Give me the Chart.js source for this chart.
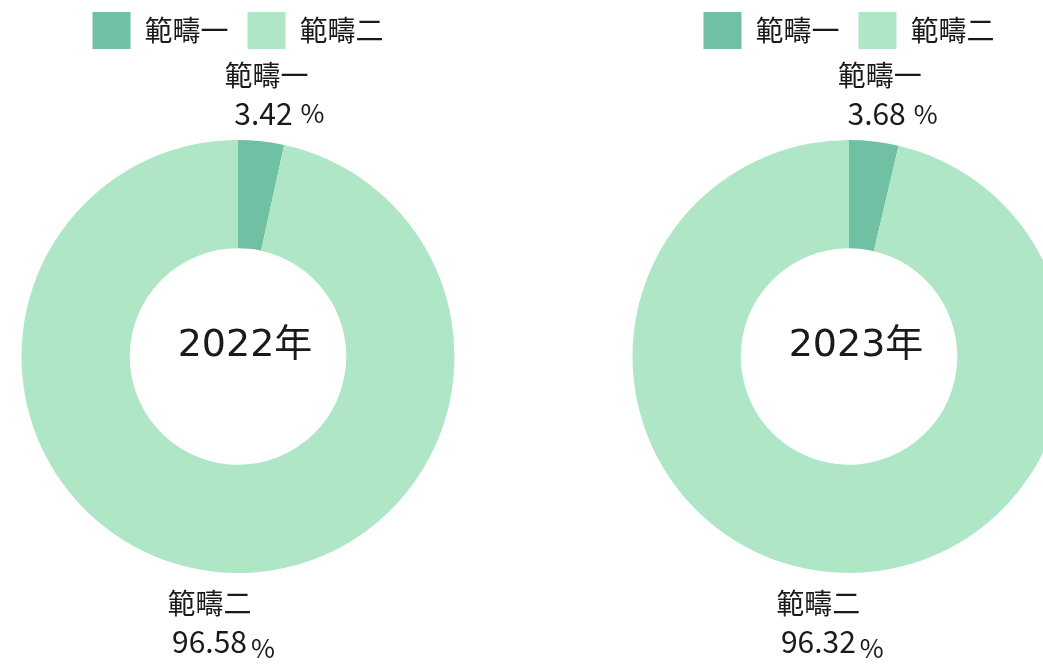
<!DOCTYPE html>
<html>
<head>
<meta charset="utf-8">
<script src="https://cdn.jsdelivr.net/npm/chart.js@4.4.1/dist/chart.umd.min.js"></script>
<style>
  html, body { margin: 0; padding: 0; background: #fff; overflow: hidden; width: 1043px; height: 664px; }
  .wrap { position: absolute; top: 0; width: 476px; height: 664px; }
</style>
</head>
<body>
<div class="wrap" style="left:0"><canvas id="c2022" width="476" height="664"></canvas></div>
<div class="wrap" style="left:611px"><canvas id="c2023" width="476" height="664"></canvas></div>
<script>
// Emission shares by scope, per year (percent)
const categories = ['範疇一', '範疇二'];
const yearLabels = ['2022年', '2023年'];
const share2022 = [3.42, 96.58];
const share2023 = [3.68, 96.32];
const sliceColors = ['#70C1A3', '#AEE6C6'];

const CJK = "'Noto Sans CJK TC', 'Noto Sans CJK SC', sans-serif";
const TEXT = '#1a1a1a';
const LEGEND_PAD = 19;
const LEGEND_TOP = 12;
const PLOT_TOP = 140; // top edge of the doughnut area, below legend and outer labels

// Stretches the legend block so the doughnut starts at PLOT_TOP
const legendSpacer = {
  id: 'legendSpacer',
  beforeInit(chart) {
    const legend = chart.legend;
    if (!legend) return;
    const fit = legend.fit;
    legend.fit = function () {
      fit.call(this);
      this.height = PLOT_TOP + (LEGEND_PAD - LEGEND_TOP);
    };
  }
};

// Draws the scope name and percentage outside each slice, at its mid angle
const sliceLabels = {
  id: 'sliceLabels',
  afterDatasetsDraw(chart) {
    const { ctx } = chart;
    const meta = chart.getDatasetMeta(0);
    const values = chart.data.datasets[0].data;
    ctx.save();
    meta.data.forEach((arc, i) => {
      const p = arc.getProps(['x', 'y', 'startAngle', 'endAngle', 'outerRadius'], true);
      const mid = (p.startAngle + p.endAngle) / 2;
      const r = p.outerRadius + 49;
      const lx = p.x + Math.cos(mid) * r;
      const ly = p.y + Math.sin(mid) * r;
      const below = ly > p.y;
      ctx.fillStyle = TEXT;
      ctx.textAlign = 'center';
      ctx.textBaseline = 'middle';
      ctx.font = `28px ${CJK}`;
      ctx.fillText(chart.data.labels[i], lx, ly - 17);
      const num = values[i].toFixed(2);
      ctx.font = `30px ${CJK}`;
      const w = ctx.measureText(num).width;
      const vy = ly + 21;
      ctx.fillText(num, lx - (below ? 0 : 3), vy);
      ctx.textAlign = 'left';
      ctx.font = `26px ${CJK}`;
      ctx.fillText('%', lx + w / 2 + (below ? 4 : 5), vy + (below ? 7 : 0));
    });
    ctx.restore();
  }
};

// Year caption in the hole of the doughnut
const centerText = {
  id: 'centerText',
  afterDraw(chart, args, opts) {
    const arc = chart.getDatasetMeta(0).data[0];
    if (!arc) return;
    const { ctx } = chart;
    ctx.save();
    ctx.fillStyle = TEXT;
    ctx.font = `38px 'DejaVu Sans', ${CJK}`;
    ctx.textAlign = 'center';
    ctx.textBaseline = 'middle';
    ctx.fillText(opts.text, arc.x + 7, arc.y - 10);
    ctx.restore();
  }
};

function makeChart(id, values, year) {
  return new Chart(document.getElementById(id), {
    type: 'doughnut',
    data: {
      labels: categories,
      datasets: [{
        data: values,
        backgroundColor: sliceColors,
        borderWidth: 0,
        hoverOffset: 0
      }]
    },
    options: {
      responsive: false,
      devicePixelRatio: 1,
      animation: false,
      cutout: '50%',
      layout: { padding: { top: LEGEND_TOP - LEGEND_PAD, bottom: 91, left: 0, right: 0 } },
      plugins: {
        legend: {
          position: 'top',
          labels: {
            boxWidth: 38,
            boxHeight: 37,
            padding: LEGEND_PAD,
            color: TEXT,
            font: { family: CJK, size: 28 }
          }
        },
        tooltip: { enabled: false },
        centerText: { text: year }
      }
    },
    plugins: [legendSpacer, sliceLabels, centerText]
  });
}

makeChart('c2022', share2022, yearLabels[0]);
makeChart('c2023', share2023, yearLabels[1]);
</script>
</body>
</html>
